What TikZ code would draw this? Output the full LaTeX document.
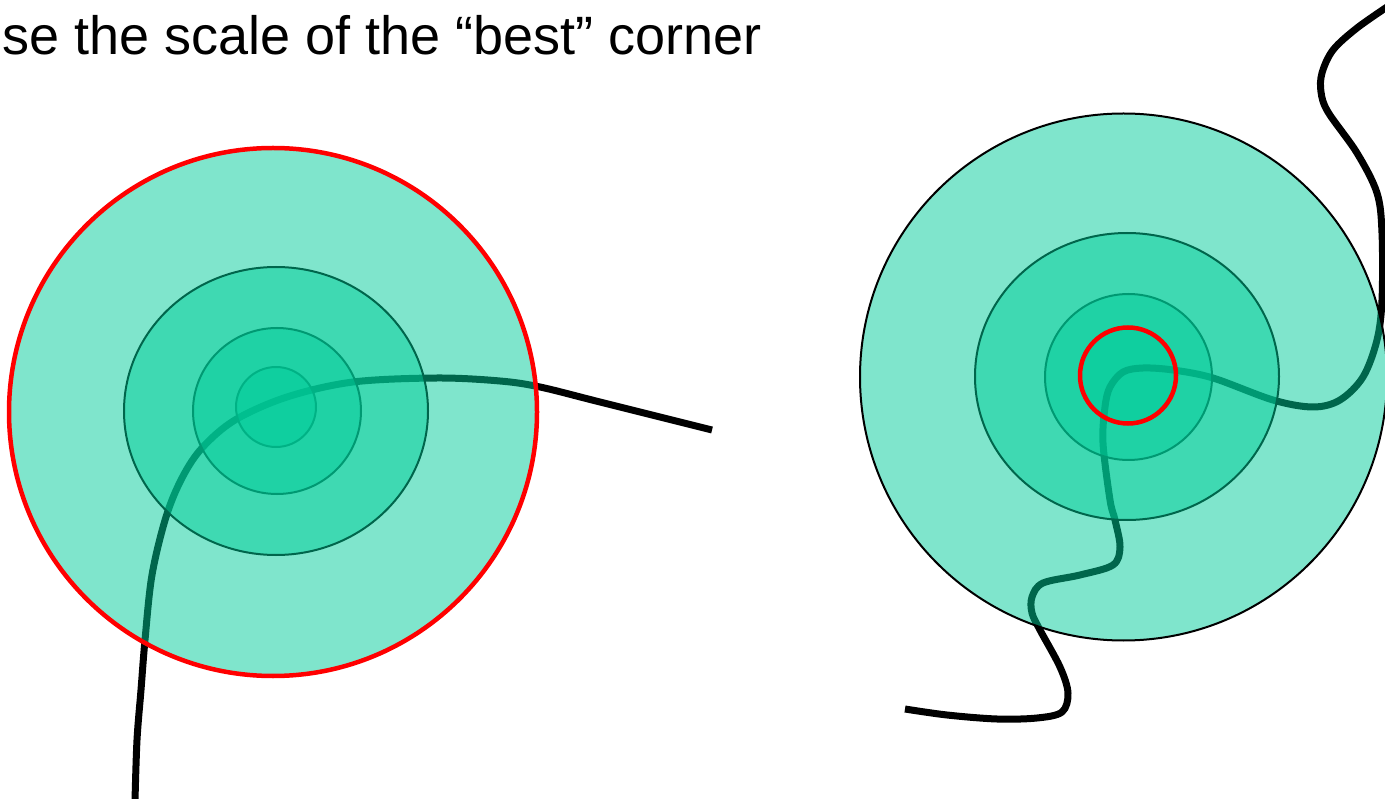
\documentclass[tikz,border=0pt]{standalone}
\usepackage{fontspec}
\setmainfont{Liberation Sans}
\definecolor{tealc}{RGB}{0,204,153}
\definecolor{redc}{RGB}{255,0,0}
\begin{document}
\begin{tikzpicture}[x=1pt,y=-1pt,
  disc/.style={fill=tealc, fill opacity=0.5, draw=black, line width=2pt},
  discfill/.style={fill=tealc, fill opacity=0.5},
  trail/.style={draw=black, line width=7pt, line cap=butt, line join=round},
  ring/.style={draw=redc, line width=4.5pt}]
\useasboundingbox (0,0) rectangle (1385,799);
\begin{scope}
\clip (0,0) rectangle (1385,799);
% ---------- left figure ----------
\draw[trail] plot[smooth, tension=0.55] coordinates {
  (135,801) (137,740) (141,690) (145,640) (152,575) (166,517) (182,478)
  (202,448) (235,420) (287,397) (353,382) (437,378) (500,381) (540,387)
  (600,402) (712,430)};
\draw[disc] (276,407) circle[radius=40pt];
\draw[disc] (277,411) ellipse[x radius=84pt, y radius=83pt];
\draw[disc] (276,411) ellipse[x radius=152pt, y radius=144pt];
\fill[discfill] (273,412) circle[radius=264pt];
\draw[ring] (273,412) circle[radius=264pt];
% ---------- right figure ----------
\fill[discfill] (1128,375.5) circle[radius=48pt];
\draw[trail] plot[smooth, tension=0.55] coordinates {
  (1390,5) (1357,28) (1333,50) (1322,73) (1321,92) (1328,112) (1357,153)
  (1377,193) (1382,233) (1382,300) (1377,340) (1363,377) (1340,400)
  (1313,407) (1273,400) (1213,378) (1173,370) (1143,368) (1123,372)
  (1110,387) (1105,407) (1103,443) (1110,500) (1115,520) (1120,547)
  (1113,565) (1080,575) (1043,583) (1032,597) (1032,613) (1040,630)
  (1060,667) (1068,693) (1062,712) (1037,718) (997,719) (947,715) (905,709)};
\draw[disc] (1128.5,377) ellipse[x radius=83.5pt, y radius=83pt];
\draw[disc] (1127,376.5) ellipse[x radius=152pt, y radius=143.5pt];
\draw[disc] (1123.5,377) circle[radius=263.5pt];
\draw[ring] (1128,375.5) circle[radius=48pt];
\end{scope}
\node[anchor=base east, font=\fontsize{54}{60}\selectfont, inner sep=0pt] (title) at (762,55) {se the scale of the “best” corner};
\end{tikzpicture}
\end{document}
